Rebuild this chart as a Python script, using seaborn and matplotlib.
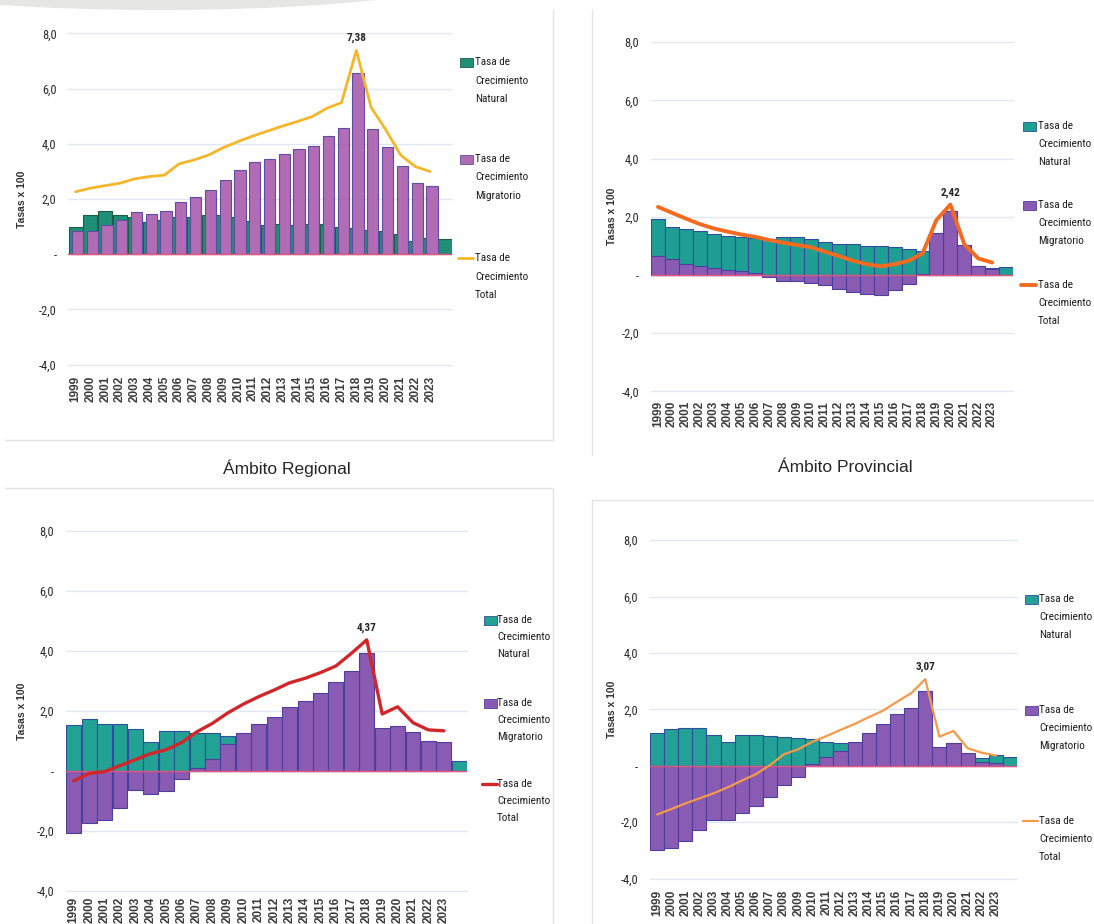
import numpy as np
import pandas as pd
import matplotlib
matplotlib.use("Agg")
import matplotlib.pyplot as plt
from matplotlib.patches import Rectangle, Ellipse
from matplotlib.lines import Line2D
from matplotlib import font_manager
import seaborn as sns

# ---------------------------------------------------------------------------
# data, last category has no label
# ---------------------------------------------------------------------------
years = [str(y) for y in range(1999, 2024)] + [""]
nan = np.nan

nat_1 = [0.97, 1.42, 1.57, 1.42, 1.36, 1.18, 1.24, 1.33, 1.36, 1.42, 1.42, 1.33, 1.19,
         1.06, 1.10, 1.06, 1.09, 1.09, 1.00, 0.94, 0.86, 0.82, 0.72, 0.46, 0.58, 0.53]
mig_1 = [0.84, 0.84, 1.04, 1.23, 1.52, 1.47, 1.56, 1.88, 2.06, 2.33, 2.67, 3.04, 3.32,
         3.46, 3.64, 3.80, 3.92, 4.28, 4.56, 6.57, 4.55, 3.88, 3.21, 2.57, 2.48, nan]
tot_1 = [2.26, 2.39, 2.48, 2.57, 2.73, 2.81, 2.86, 3.27, 3.41, 3.59, 3.86, 4.08, 4.28,
         4.46, 4.64, 4.80, 4.98, 5.28, 5.49, 7.38, 5.32, 4.50, 3.59, 3.17, 2.99, nan]

nat_2 = [1.91, 1.66, 1.58, 1.51, 1.41, 1.34, 1.30, 1.26, 1.24, 1.29, 1.29, 1.25, 1.14,
         1.07, 1.06, 1.00, 0.99, 0.95, 0.88, 0.82, 0.78, 0.60, 0.45, 0.30, 0.25, 0.26]
mig_2 = [0.65, 0.54, 0.39, 0.31, 0.25, 0.18, 0.14, 0.07, -0.08, -0.21, -0.21, -0.26, -0.34,
         -0.48, -0.57, -0.65, -0.70, -0.51, -0.32, 0.03, 1.45, 2.19, 1.03, 0.32, 0.21, nan]
tot_2 = [2.34, 2.14, 1.94, 1.75, 1.60, 1.49, 1.39, 1.31, 1.20, 1.11, 1.03, 0.95, 0.80,
         0.65, 0.49, 0.37, 0.30, 0.37, 0.49, 0.74, 1.89, 2.42, 1.06, 0.57, 0.43, nan]

nat_3 = [1.54, 1.73, 1.58, 1.57, 1.41, 0.98, 1.33, 1.33, 1.26, 1.26, 1.18, 1.12, 1.08,
         1.03, 0.98, 0.93, 0.88, 0.83, 0.78, 0.72, 0.66, 0.60, 0.52, 0.45, 0.40, 0.34]
mig_3 = [-2.05, -1.73, -1.62, -1.23, -0.63, -0.76, -0.65, -0.26, 0.09, 0.39, 0.89, 1.28, 1.57,
         1.81, 2.12, 2.33, 2.61, 2.96, 3.34, 3.92, 1.44, 1.51, 1.29, 1.00, 0.96, nan]
tot_3 = [-0.33, -0.08, -0.02, 0.18, 0.38, 0.58, 0.71, 0.95, 1.31, 1.59, 1.94, 2.23, 2.48,
         2.70, 2.94, 3.09, 3.28, 3.50, 3.92, 4.37, 1.90, 2.14, 1.61, 1.37, 1.34, nan]

nat_4 = [1.15, 1.29, 1.35, 1.33, 1.09, 0.85, 1.08, 1.10, 1.05, 1.03, 0.97, 0.95, 0.83,
         0.82, 0.75, 0.70, 0.62, 0.56, 0.50, 0.45, 0.40, 0.35, 0.30, 0.28, 0.38, 0.30]
mig_4 = [-2.99, -2.93, -2.66, -2.28, -1.91, -1.93, -1.69, -1.42, -1.10, -0.69, -0.41, 0.06, 0.30,
         0.52, 0.83, 1.17, 1.47, 1.83, 2.04, 2.65, 0.67, 0.79, 0.46, 0.14, 0.08, nan]
tot_4 = [-1.73, -1.54, -1.34, -1.16, -0.98, -0.77, -0.53, -0.30, 0.02, 0.41, 0.58, 0.85, 1.05,
         1.27, 1.48, 1.72, 1.95, 2.27, 2.57, 3.07, 1.03, 1.23, 0.62, 0.46, 0.36, nan]

ytick_vals = [-4, -2, 0, 2, 4, 6, 8]
ytick_labels = ["-4,0", "-2,0", "-", "2,0", "4,0", "6,0", "8,0"]
legend_labels = [["Tasa de", "Crecimiento", "Natural"],
                 ["Tasa de", "Crecimiento", "Migratorio"],
                 ["Tasa de", "Crecimiento", "Total"]]
titles = ["Ámbito Regional", "Ámbito Provincial"]

# ---------------------------------------------------------------------------
# style / fonts
# ---------------------------------------------------------------------------
sns.set_theme(style="white")
installed = {f.name for f in font_manager.fontManager.ttflist}
narrow_cands = ["Liberation Sans Narrow", "DejaVu Sans Condensed", "Roboto Condensed",
                "Open Sans Condensed", "Arial Narrow", "Roboto"]
narrow = next((c for c in narrow_cands if c in installed), "DejaVu Sans")
plain = "Liberation Sans" if "Liberation Sans" in installed else "DejaVu Sans"
plt.rcParams["font.family"] = [narrow, "DejaVu Sans"]

W, H = 1094, 924
fig = plt.figure(figsize=(W / 100, H / 100), dpi=100)
fig.patch.set_facecolor("white")
renderer = fig.canvas.get_renderer()


def fit_size(text, target_px, family, weight="normal"):
    """font size (pt) that makes `text` about target_px wide"""
    t = fig.text(0, 0, text, fontsize=10, family=family, fontweight=weight)
    w = t.get_window_extent(renderer).width
    t.remove()
    return 10 * target_px / w


leg_fs = min(9.0, fit_size("Crecimiento", 53, narrow))
ytk_fs = min(9.5, fit_size("8,0", 14.5, narrow))
peak_fs = min(10.5, fit_size("7,38", 20, narrow, "bold"))


def fx(x):
    return x / W


def fy(y):
    return 1 - y / H


# panel layout in pixels: (left, top, right, bottom)
panels = [
    dict(nat=nat_1, mig=mig_1, tot=tot_1, rect=(68.3, 33.3, 452.3, 364.5),
         nat_c="#1f8f77", nat_ec="#1b5d49", mig_c="#b26cb5", mig_ec="#5d4ea3",
         line_c="#f6b62b", lw=2.0, nat_w=0.95, mig_off=0.12, mig_w=0.76,
         leg_x=460, txt_x=475, leg_y=[62, 159, 258], pitch=18.5, ylab_x=22, xpad=8),
    dict(nat=nat_2, mig=mig_2, tot=tot_2, rect=(651, 42.2, 1013, 391.4),
         nat_c="#1f9e93", nat_ec="#2f4f9c", mig_c="#8a5bb3", mig_ec="#4c3f9e",
         line_c="#f26b21", lw=2.8, nat_w=1.0, mig_off=0.0, mig_w=1.0,
         leg_x=1023, txt_x=1038, leg_y=[126, 205, 285], pitch=17.8, ylab_x=612, xpad=7),
    dict(nat=nat_3, mig=mig_3, tot=tot_3, rect=(66, 531, 467, 891),
         nat_c="#22a295", nat_ec="#2f4f9c", mig_c="#8a5bb3", mig_ec="#4c3f9e",
         line_c="#d0282a", lw=2.4, nat_w=0.97, mig_off=0.0, mig_w=0.97,
         leg_x=484, txt_x=497, leg_y=[620, 703, 784], pitch=16.8, ylab_x=22, xpad=4),
    dict(nat=nat_4, mig=mig_4, tot=tot_4, rect=(650, 540.1, 1017, 878.5),
         nat_c="#23a196", nat_ec="#2f4f9c", mig_c="#8a5bb3", mig_ec="#4c3f9e",
         line_c="#f5994a", lw=1.6, nat_w=1.0, mig_off=0.0, mig_w=1.0,
         leg_x=1025, txt_x=1039, leg_y=[599, 710, 821], pitch=18, ylab_x=612, xpad=8),
]

# light panel frames and the grey swoosh in the corner
frame_c = "#e4e4e4"
for xs, ys in [([5, 553], [440, 440]), ([553, 553], [10, 440]),
               ([592, 592], [10, 455]),
               ([5, 553], [488, 488]), ([553, 553], [488, 924]),
               ([592, 1094], [500, 500]), ([592, 592], [500, 924])]:
    fig.add_artist(Line2D([fx(v) for v in xs], [fy(v) for v in ys], color=frame_c,
                          lw=1, transform=fig.transFigure))
fig.add_artist(Ellipse((fx(160), fy(-28)), 640 / W, 76 / H, transform=fig.transFigure,
                       facecolor="#e6e7e3", edgecolor="none"))

for p in panels:
    l, t, r, b = p["rect"]
    ax = fig.add_axes([fx(l), fy(b), (r - l) / W, (b - t) / H])
    ax.patch.set_alpha(0)

    df = pd.DataFrame({"pos": np.arange(len(years)), "nat": p["nat"],
                       "mig": p["mig"], "tot": p["tot"]})

    sns.barplot(data=df, x="pos", y="nat", native_scale=True, width=p["nat_w"],
                color=p["nat_c"], saturation=1, edgecolor=p["nat_ec"], linewidth=0.8,
                errorbar=None, ax=ax)
    mig = df.dropna(subset=["mig"]).assign(x=lambda d: d["pos"] + p["mig_off"])
    sns.barplot(data=mig, x="x", y="mig", native_scale=True, width=p["mig_w"],
                color=p["mig_c"], saturation=1, edgecolor=p["mig_ec"], linewidth=0.8,
                errorbar=None, ax=ax)
    tot = df.dropna(subset=["tot"])
    sns.lineplot(data=tot, x="pos", y="tot", color=p["line_c"], lw=p["lw"], ax=ax,
                 zorder=4)
    ax.axhline(0, color="#e6557e", lw=1.0, zorder=3)

    # peak label
    k = int(tot["tot"].idxmax())
    v = tot.loc[k, "tot"]
    ax.annotate(f"{v:.2f}".replace(".", ","), (k, v), xytext=(0, 5),
                textcoords="offset points", ha="center", va="bottom",
                fontsize=peak_fs, fontweight="bold", color="#262626", zorder=5)

    ax.set_xlim(-0.5, len(years) - 0.5)
    ax.set_ylim(-4, 8)
    ax.set_yticks(ytick_vals)
    ax.set_yticklabels(ytick_labels, fontsize=ytk_fs, color="#2a2a2a")
    ax.set_xticks(np.arange(len(years)))
    ax.set_xticklabels(years, rotation=90, fontsize=8.5, fontweight="bold",
                       family=plain, color="#3c3c3c")
    ax.tick_params(axis="y", length=0, pad=8.5)
    ax.tick_params(axis="x", length=0, pad=p["xpad"])
    ax.set_xlabel("")
    ax.set_ylabel("")
    ax.set_axisbelow(True)
    ax.yaxis.grid(True, color="#dfe8f1", lw=1)
    for gl in ax.get_ygridlines():
        gl.set_clip_on(False)
    for s in ax.spines.values():
        s.set_visible(False)

    fig.text(fx(p["ylab_x"]), fy((t + b) / 2), "Tasas x 100", rotation=90,
             ha="center", va="center", fontsize=7.5, fontweight="bold",
             family=plain, color="#333333")

    # legend, handle aligned with the first line of each entry
    for i, (y0, lines) in enumerate(zip(p["leg_y"], legend_labels)):
        if i < 2:
            fc = p["nat_c"] if i == 0 else p["mig_c"]
            ec = p["nat_ec"] if i == 0 else p["mig_ec"]
            fig.add_artist(Rectangle((fx(p["leg_x"]), fy(y0 + 4.5)), 13 / W, 9 / H,
                                     transform=fig.transFigure, facecolor=fc,
                                     edgecolor=ec, lw=0.6))
        else:
            fig.add_artist(Line2D([fx(p["leg_x"] - 2), fx(p["leg_x"] + 13)], [fy(y0), fy(y0)],
                                  color=p["line_c"], lw=p["lw"], transform=fig.transFigure))
        for j, txt in enumerate(lines):
            fig.text(fx(p["txt_x"]), fy(y0 + j * p["pitch"]), txt, ha="left",
                     va="center", fontsize=leg_fs, color="#1e1e1e")

fig.text(fx(287), fy(468), titles[0], ha="center", va="center", fontsize=12.5,
         family=plain, color="#262626")
fig.text(fx(845), fy(468), titles[1], ha="center", va="center", fontsize=12.5,
         family=plain, color="#262626")

fig.savefig("out.png", dpi=100)
